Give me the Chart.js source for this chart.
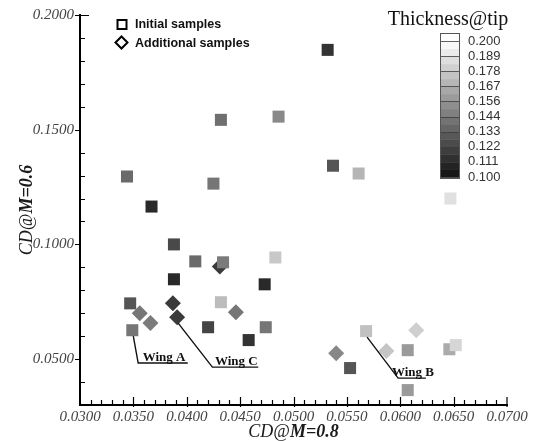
<!DOCTYPE html>
<html><head><meta charset="utf-8">
<script src="https://cdn.jsdelivr.net/npm/chart.js@4/dist/chart.umd.min.js"></script>
<style>html,body{margin:0;padding:0;background:#fff}#wrap{width:538px;height:441px}</style>
</head><body><div id="wrap"><canvas id="c" width="538" height="441"></canvas></div>
<script>
// ---- data (CD@M=0.8, CD@M=0.6, thickness at tip) ----
const initialX = [0.0344,0.0367,0.0432,0.0425,0.0532,0.0486,0.0537,0.0561,0.0647,0.0388,0.0408,0.0434,0.0483,0.0388,0.0473,0.0347,0.0349,0.0432,0.0420,0.0458,0.0474,0.0553,0.0568,0.0607,0.0607,0.0646,0.0652];
const initialY = [0.1296,0.1165,0.1543,0.1265,0.1848,0.1557,0.1343,0.1309,0.1200,0.1000,0.0926,0.0922,0.0943,0.0848,0.0826,0.0743,0.0626,0.0748,0.0639,0.0583,0.0639,0.0461,0.0622,0.0539,0.0365,0.0543,0.0561];
const initialThick = [0.138,0.111,0.140,0.143,0.115,0.151,0.129,0.169,0.187,0.124,0.138,0.145,0.177,0.111,0.111,0.129,0.143,0.172,0.122,0.115,0.143,0.129,0.174,0.158,0.158,0.165,0.183];
const additionalX = [0.0356,0.0366,0.0387,0.0391,0.0431,0.0446,0.0540,0.0587,0.0615];
const additionalY = [0.0700,0.0657,0.0743,0.0683,0.0904,0.0704,0.0526,0.0535,0.0626];
const additionalThick = [0.143,0.145,0.118,0.118,0.118,0.143,0.150,0.176,0.180];
const xTicks = [0.030,0.035,0.040,0.045,0.050,0.055,0.060,0.065,0.070];
const yTicks = [0.05,0.10,0.15,0.20];
const colorbarLabels = ['0.200','0.189','0.178','0.167','0.156','0.144','0.133','0.122','0.111','0.100'];
const legendLabels = ['Initial samples','Additional samples'];
// annotations: label, data point it refers to, elbow and end in data units
const wingLabels = ['Wing A','Wing C','Wing B'];
const wingFrom = [[0.0349,0.0626],[0.0391,0.0683],[0.0568,0.0622]];
const wingElbow = [[0.03545,0.0483],[0.0424,0.0465],[0.0598,0.0417]];
const wingEnd = [[0.0401,0.0483],[0.0467,0.0465],[0.0624,0.0417]];

function gray(t){
  const g = Math.round(Math.max(0,Math.min(255,15 + 240*(t-0.1)/0.1)));
  return `rgb(${g},${g},${g})`;
}
const SERIF = '"Liberation Serif","Times New Roman",serif';
const SANS = '"Liberation Sans",Arial,sans-serif';

const decor = {
  id:'decor',
  afterDraw(chart){
    const ctx = chart.ctx, xs = chart.scales.x, ys = chart.scales.y, ca = chart.chartArea;
    ctx.save();
    // tick marks
    ctx.strokeStyle = '#000'; ctx.lineWidth = 1.2;
    ctx.beginPath();
    for (let v = 0.031; v < 0.0699; v += 0.001) {
      const px = Math.round(xs.getPixelForValue(v))+0.5;
      const major = Math.abs(v/0.005 - Math.round(v/0.005)) < 1e-6;
      ctx.moveTo(px, ca.bottom+ (major?2:0)); ctx.lineTo(px, ca.bottom - (major?8:5));
    }
    const px70 = xs.getPixelForValue(0.07);
    ctx.moveTo(px70, ca.bottom+2); ctx.lineTo(px70, ca.bottom-8);
    for (let v = 0.04; v <= 0.2001; v += 0.01) {
      const py = Math.round(ys.getPixelForValue(v))+0.5;
      const major = Math.abs(v/0.05 - Math.round(v/0.05)) < 1e-6;
      if (major) { ctx.moveTo(ca.left-5, py); ctx.lineTo(ca.left+ (v>0.199?9:0), py); }
      else { ctx.moveTo(ca.left, py); ctx.lineTo(ca.left+5, py); }
    }
    ctx.stroke();

    // axis titles
    ctx.fillStyle = '#1a1a1a';
    ctx.textBaseline = 'alphabetic';
    const f1 = `italic 18px ${SERIF}`, f2 = `italic bold 18px ${SERIF}`;
    function mixed(x, y, rot, a, b){
      ctx.save(); ctx.translate(x,y); ctx.rotate(rot);
      ctx.font = f1; const w1 = ctx.measureText(a).width;
      ctx.font = f2; const w2 = ctx.measureText(b).width;
      let sx = -(w1+w2)/2;
      ctx.font = f1; ctx.textAlign='left'; ctx.fillText(a, sx, 6);
      ctx.font = f2; ctx.fillText(b, sx+w1, 6);
      ctx.restore();
    }
    mixed((ca.left+ca.right)/2, 431, 0, 'CD@', 'M=0.8');
    mixed(26, (ca.top+ca.bottom)/2, -Math.PI/2, 'CD@', 'M=0.6');

    // legend
    ctx.strokeStyle = '#000'; ctx.lineWidth = 2;
    ctx.strokeRect(117.5, 20, 9, 9);
    ctx.beginPath(); ctx.moveTo(121.5,36.5); ctx.lineTo(127.5,42.5); ctx.lineTo(121.5,48.5); ctx.lineTo(115.5,42.5); ctx.closePath(); ctx.stroke();
    ctx.fillStyle = '#111'; ctx.font = `bold 12.5px ${SANS}`; ctx.textAlign='left'; ctx.textBaseline='middle';
    ctx.fillText(legendLabels[0], 135, 25);
    ctx.fillText(legendLabels[1], 135, 43.5);

    // colorbar
    const cbL = 440, cbW = 19, yTop = 41, yBot = 177, n = colorbarLabels.length - 1;
    const step = (yBot - yTop)/n;
    for (let i = 0; i < n*2; i++) {
      const t = 0.1 + (i+0.5)*0.1/(n*2);
      const y0 = yBot - (i+1)*step/2;
      ctx.fillStyle = gray(t);
      ctx.fillRect(cbL, y0, cbW, step/2+0.5);
    }
    ctx.fillStyle = '#fff'; ctx.fillRect(cbL, 33, cbW, yTop-33);
    ctx.strokeStyle = 'rgba(60,60,60,0.8)'; ctx.lineWidth = 1;
    ctx.beginPath();
    for (let i = 0; i <= n; i++) { const y = Math.round(yBot - i*step)+0.5; ctx.moveTo(cbL, y); ctx.lineTo(cbL+cbW, y); }
    ctx.stroke();
    ctx.strokeStyle = '#555'; ctx.strokeRect(cbL+0.5, 33.5, cbW, yBot-33+1);
    ctx.fillStyle = '#333'; ctx.font = `13px ${SANS}`; ctx.textAlign='left'; ctx.textBaseline='middle';
    colorbarLabels.forEach((lab,i)=>{ ctx.fillText(lab, 468, yTop + i*step); });
    ctx.fillStyle = '#111'; ctx.font = `20px ${SERIF}`; ctx.textAlign='center'; ctx.textBaseline='middle';
    ctx.fillText('Thickness@tip', 448, 20);

    // wing annotations
    ctx.strokeStyle = '#111'; ctx.lineWidth = 1.4;
    ctx.font = `bold 13px ${SERIF}`; ctx.textAlign='center'; ctx.textBaseline='alphabetic'; ctx.fillStyle='#111';
    wingLabels.forEach((lab,i)=>{
      const fx = xs.getPixelForValue(wingFrom[i][0]), fy = ys.getPixelForValue(wingFrom[i][1]) + 6;
      const ex = xs.getPixelForValue(wingElbow[i][0]), ey = ys.getPixelForValue(wingElbow[i][1]);
      const tx = xs.getPixelForValue(wingEnd[i][0]);
      ctx.beginPath(); ctx.moveTo(fx+1, fy); ctx.lineTo(ex, ey); ctx.lineTo(tx, ey); ctx.stroke();
      ctx.fillText(lab, (ex+tx)/2+1, ey-2);
    });
    ctx.restore();
  }
};

new Chart(document.getElementById('c'), {
  type:'scatter',
  data:{ datasets:[
    { label:legendLabels[0], data: initialX.map((x,i)=>({x, y:initialY[i]})),
      pointStyle:'rect', pointRadius:8.5, pointHoverRadius:8.5, borderWidth:0,
      backgroundColor: initialThick.map(gray) },
    { label:legendLabels[1], data: additionalX.map((x,i)=>({x, y:additionalY[i]})),
      pointStyle:'rectRot', pointRadius:8, pointHoverRadius:8, borderWidth:0,
      backgroundColor: additionalThick.map(gray) }
  ]},
  options:{
    responsive:false, animation:false, devicePixelRatio:1,
    layout:{ padding:{ top:14, right:31, left:0, bottom:0 } },
    plugins:{ legend:{display:false}, tooltip:{enabled:false} },
    scales:{
      x:{ type:'linear', min:0.03, max:0.07,
        afterFit:s=>{ s.height = 36; },
        afterBuildTicks:s=>{ s.ticks = xTicks.map(v=>({value:v})); },
        grid:{ drawOnChartArea:false, drawTicks:false, color:'rgba(0,0,0,0)' },
        border:{ display:true, color:'#000', width:2 },
        ticks:{ callback:v=>Number(v).toFixed(4), padding:3, maxRotation:0, autoSkip:false,
          font:{ family:SERIF, style:'italic', size:15 }, color:'#444' } },
      y:{ type:'linear', min:0.03, max:0.2,
        afterFit:s=>{ s.width = 80; },
        afterBuildTicks:s=>{ s.ticks = yTicks.map(v=>({value:v})); },
        grid:{ drawOnChartArea:false, drawTicks:false, color:'rgba(0,0,0,0)' },
        border:{ display:true, color:'#000', width:2 },
        ticks:{ callback:v=>Number(v).toFixed(4), padding:6, autoSkip:false,
          font:{ family:SERIF, style:'italic', size:15 }, color:'#444' } }
    }
  },
  plugins:[decor]
});
</script></body></html>
